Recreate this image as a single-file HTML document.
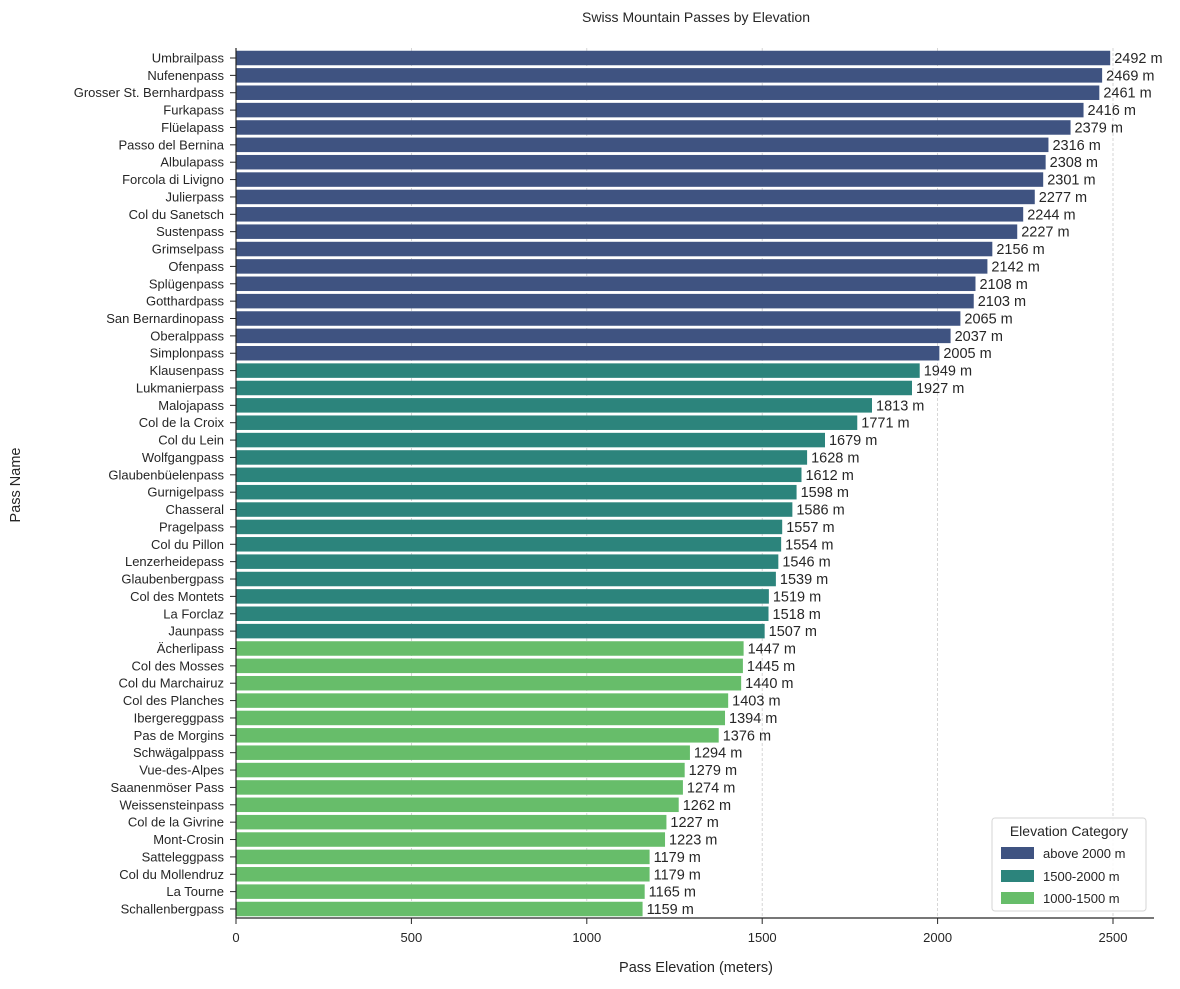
<!DOCTYPE html>
<html><head><meta charset="utf-8"><style>
body{margin:0;background:#fff;font-family:"Liberation Sans","DejaVu Sans",sans-serif;}
svg text{font-family:"Liberation Sans","DejaVu Sans",sans-serif;fill:#262626;}
</style></head><body>
<svg id="chart" width="1180" height="984" xmlns="http://www.w3.org/2000/svg">
<text x="696" y="22" font-size="14" text-anchor="middle">Swiss Mountain Passes by Elevation</text>
<text x="696" y="972" font-size="14.5" text-anchor="middle">Pass Elevation (meters)</text>
<text x="20" y="485" font-size="14.5" text-anchor="middle" transform="rotate(-90 20 485)">Pass Name</text>
<g id="grid"></g><g id="bars"></g><g id="axes"></g>
<g>
<rect x="992" y="818" width="154" height="93" rx="3" fill="#fff" fill-opacity="0.85" stroke="#d6d6d6"/>
<text x="1069" y="836" font-size="14" text-anchor="middle">Elevation Category</text>
<g><rect x="1001" y="847" width="33" height="12" fill="#3f5381"/><text x="1043" y="858" font-size="13">above 2000 m</text></g>
<g><rect x="1001" y="870" width="33" height="12" fill="#2c847c"/><text x="1043" y="881" font-size="13">1500-2000 m</text></g>
<g><rect x="1001" y="892" width="33" height="12" fill="#67bd6a"/><text x="1043" y="903" font-size="13">1000-1500 m</text></g>
</g>
</svg>
<script>
const passNames=["Umbrailpass","Nufenenpass","Grosser St. Bernhardpass","Furkapass","Flüelapass","Passo del Bernina","Albulapass","Forcola di Livigno","Julierpass","Col du Sanetsch","Sustenpass","Grimselpass","Ofenpass","Splügenpass","Gotthardpass","San Bernardinopass","Oberalppass","Simplonpass","Klausenpass","Lukmanierpass","Malojapass","Col de la Croix","Col du Lein","Wolfgangpass","Glaubenbüelenpass","Gurnigelpass","Chasseral","Pragelpass","Col du Pillon","Lenzerheidepass","Glaubenbergpass","Col des Montets","La Forclaz","Jaunpass","Ächerlipass","Col des Mosses","Col du Marchairuz","Col des Planches","Ibergereggpass","Pas de Morgins","Schwägalppass","Vue-des-Alpes","Saanenmöser Pass","Weissensteinpass","Col de la Givrine","Mont-Crosin","Satteleggpass","Col du Mollendruz","La Tourne","Schallenbergpass"];
const elevations=[2492,2469,2461,2416,2379,2316,2308,2301,2277,2244,2227,2156,2142,2108,2103,2065,2037,2005,1949,1927,1813,1771,1679,1628,1612,1598,1586,1557,1554,1546,1539,1519,1518,1507,1447,1445,1440,1403,1394,1376,1294,1279,1274,1262,1227,1223,1179,1179,1165,1159];
const xTicks=[0,500,1000,1500,2000,2500];
const NS="http://www.w3.org/2000/svg";
const x0=236,xScale=(1113-236)/2500,yTop=58,step=(909-58)/49,bh=14.5;
const xs=v=>x0+v*xScale, ys=i=>yTop+i*step;
function mk(t,a,p){const e=document.createElementNS(NS,t);for(const k in a)e.setAttribute(k,a[k]);p.appendChild(e);return e;}
const grid=document.getElementById('grid'),bars=document.getElementById('bars'),axes=document.getElementById('axes');
xTicks.forEach(t=>{
 if(t>0){const g=mk('line',{x1:xs(t),x2:xs(t),y1:48,y2:918,stroke:'#cccccc','stroke-width':0.8,'stroke-dasharray':'3,2'},grid);
 
 }
 const tk=mk('line',{x1:xs(t),x2:xs(t),y1:918,y2:924,stroke:'#262626','stroke-width':1},axes);
 
 
 const lb=mk('text',{x:xs(t),y:942,'font-size':13,'text-anchor':'middle'},axes);lb.textContent=t;
 
 
});
function color(v){return v>2000?'#3f5381':v>=1500?'#2c847c':'#67bd6a';}
passNames.forEach((n,i)=>{
 const v=elevations[i],y=ys(i);
 const r=mk('rect',{x:x0,y:y-bh/2,width:xs(v)-x0,height:bh,fill:color(v)},bars);
 
 
 const vl=mk('text',{x:xs(v)+4,y:y+5,'font-size':14.5},bars);vl.textContent=v+' m';
 
 
 const yt=mk('line',{x1:230,x2:236,y1:y,y2:y,stroke:'#262626','stroke-width':1},axes);
 
 
 const yl=mk('text',{x:224,y:y+4.5,'font-size':13,'text-anchor':'end'},axes);yl.textContent=n;
 
 
});
const ya=mk('line',{x1:236,x2:236,y1:48,y2:918,stroke:'#262626','stroke-width':1.2},axes);


const xa=mk('line',{x1:236,x2:1154,y1:918,y2:918,stroke:'#262626','stroke-width':1.2},axes);


</script>
</body></html>
